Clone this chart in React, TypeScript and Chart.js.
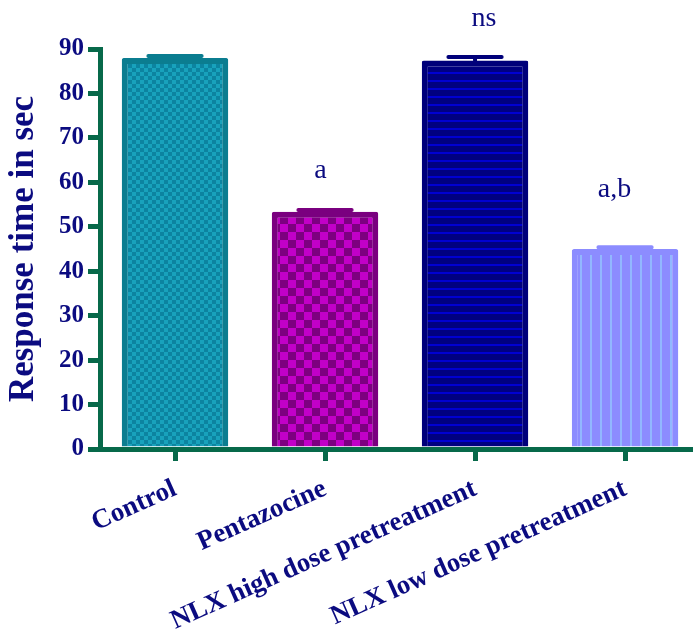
import React, { useEffect, useRef } from "react";
import { Chart, registerables } from "chart.js";

Chart.register(...registerables);

const categories = ["Control", "Pentazocine", "NLX high dose pretreatment", "NLX low dose pretreatment"];
const meanValues = [88.0, 53.4, 87.4, 45.0];
const semValues = [0.4, 0.4, 0.8, 0.4];
const yTickValues = [0, 10, 20, 30, 40, 50, 60, 70, 80, 90];
const sigLabels = ["", "a", "ns", "a,b"];
const sigX = [0, 0.97, 2.06, 2.93];
const sigY = [0, 60.9, 95.1, 56.8];
const yTitle = "Response time in sec";

const GREEN = "#07694a";
const NAVY = "#0b0b80";
const FONT = "'Liberation Serif', 'Times New Roman', serif";

function checker(size: number, c1: string, c2: string) {
  const cv = document.createElement("canvas");
  cv.width = size * 2;
  cv.height = size * 2;
  const c = cv.getContext("2d")!;
  c.fillStyle = c1;
  c.fillRect(0, 0, size * 2, size * 2);
  c.fillStyle = c2;
  c.fillRect(0, 0, size, size);
  c.fillRect(size, size, size, size);
  return c.createPattern(cv, "repeat")!;
}

function hLines(spacing: number, lw: number, bg: string, fg: string) {
  const cv = document.createElement("canvas");
  cv.width = 8;
  cv.height = spacing;
  const c = cv.getContext("2d")!;
  c.fillStyle = bg;
  c.fillRect(0, 0, 8, spacing);
  c.fillStyle = fg;
  c.fillRect(0, 0, 8, lw);
  return c.createPattern(cv, "repeat")!;
}

function vLines(spacing: number, lw: number, bg: string, fg: string) {
  const cv = document.createElement("canvas");
  cv.width = spacing;
  cv.height = 8;
  const c = cv.getContext("2d")!;
  c.fillStyle = bg;
  c.fillRect(0, 0, spacing, 8);
  c.fillStyle = fg;
  c.fillRect(0, 0, lw, 8);
  return c.createPattern(cv, "repeat")!;
}

export default function App() {
  const ref = useRef<HTMLCanvasElement>(null);

  useEffect(() => {
    const canvas = ref.current!;
    const borderColors = ["#0b7d90", "#7a007f", "#00007a", "#8c8cff"];
    const fills = [
      checker(4, "#18a2bc", "#0c84a0"),
      checker(8, "#c200c8", "#7d0080"),
      hLines(8, 2, "#000080", "#0000d2"),
      vLines(10, 2, "#8c8cff", "#92b8ff"),
    ];

    const overlay = {
      id: "overlay",
      afterDatasetsDraw(chart: any) {
        const ctx = chart.ctx;
        const meta = chart.getDatasetMeta(0);
        const ys = chart.scales.y;
        const xs = chart.scales.x;
        ctx.save();
        meta.data.forEach((el: any, i: number) => {
          const top = ys.getPixelForValue(meanValues[i] + semValues[i]);
          const capW = el.width * 0.5;
          ctx.strokeStyle = borderColors[i];
          ctx.lineWidth = 4;
          ctx.lineCap = "round";
          ctx.beginPath();
          ctx.moveTo(el.x, ys.getPixelForValue(meanValues[i]));
          ctx.lineTo(el.x, top);
          ctx.moveTo(el.x - capW / 2, top);
          ctx.lineTo(el.x + capW / 2, top);
          ctx.stroke();
        });
        ctx.fillStyle = NAVY;
        ctx.font = `28px ${FONT}`;
        ctx.textAlign = "center";
        ctx.textBaseline = "alphabetic";
        sigLabels.forEach((t, i) => {
          if (!t) return;
          ctx.fillText(t, xs.getPixelForValue(sigX[i]), ys.getPixelForValue(sigY[i]));
        });
        ctx.restore();
      },
    };

    const chart = new Chart(canvas, {
      type: "bar",
      data: {
        datasets: [
          {
            data: meanValues.map((v, i) => ({ x: i, y: v })),
            backgroundColor: fills as any,
            borderColor: borderColors,
            borderWidth: 6,
            borderRadius: 2,
            barPercentage: 0.71,
            categoryPercentage: 1,
          },
        ],
      },
      options: {
        responsive: false,
        animation: false,
        devicePixelRatio: 1,
        layout: { padding: { top: 49, left: 0, right: 0, bottom: 0 } },
        plugins: { legend: { display: false }, tooltip: { enabled: false } },
        scales: {
          x: {
            type: "linear",
            offset: false,
            min: -0.5,
            max: 3.453,
            afterBuildTicks: (s: any) => {
              s.ticks = categories.map((_, i) => ({ value: i }));
            },
            afterFit: (s: any) => {
              s.height = 192;
            },
            grid: { display: true, offset: false, drawOnChartArea: false, drawTicks: true, tickLength: 12, color: GREEN, lineWidth: 5 },
            border: { display: true, color: GREEN, width: 5 },
            ticks: {
              autoSkip: false,
              minRotation: 24,
              maxRotation: 24,
              padding: 12,
              color: NAVY,
              font: { family: FONT, size: 27, weight: "bold" },
              callback: (v: any) => categories[v as number] ?? "",
            },
          },
          y: {
            min: 0,
            max: 90,
            afterBuildTicks: (s: any) => {
              s.ticks = yTickValues.map((v) => ({ value: v }));
            },
            afterFit: (s: any) => {
              s.width = 100;
            },
            title: {
              display: true,
              text: yTitle,
              color: NAVY,
              font: { family: FONT, size: 35, weight: "bold" },
              padding: { top: 3, bottom: 0 },
            },
            grid: { display: true, drawOnChartArea: false, drawTicks: true, tickLength: 12, color: GREEN, lineWidth: 5 },
            border: { display: true, color: GREEN, width: 5 },
            ticks: {
              padding: 4,
              color: NAVY,
              font: { family: FONT, size: 25, weight: "bold" },
            },
          },
        },
      } as any,
      plugins: [overlay],
    });
    return () => chart.destroy();
  }, []);

  return (
    <div style={{ position: "absolute", left: 0, top: 0, width: 693, height: 641, background: "#fff" }}>
      <canvas ref={ref} width={693} height={641} />
    </div>
  );
}
